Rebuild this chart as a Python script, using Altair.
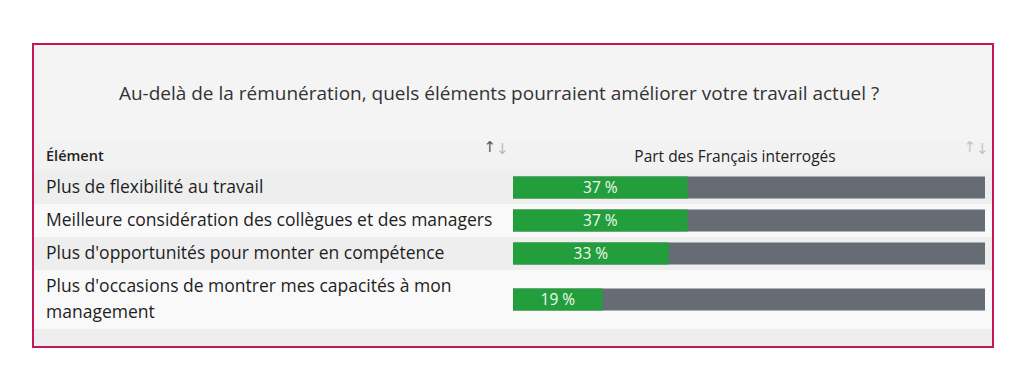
import altair as alt
import pandas as pd

# ---- data -------------------------------------------------------------
title_text = "Au-delà de la rémunération, quels éléments pourraient améliorer votre travail actuel ?"
col_left = "Élément"
col_right = "Part des Français interrogés"
elements = [
    "Plus de flexibilité au travail",
    "Meilleure considération des collègues et des managers",
    "Plus d'opportunités pour monter en compétence",
    "Plus d'occasions de montrer mes capacités à mon\nmanagement",
]
shares = [37, 37, 33, 19]

# ---- layout (pixels inside the framed box) ----------------------------
W, H = 960, 303
HEADER_TOP, HEADER_H = 98, 29
LINE_H = 26
ROW_BASE = 33
BAR_H = 22
FONT = "Open Sans"

rows = []
stripes = []
top = HEADER_TOP + HEADER_H
for i, (e, s) in enumerate(zip(elements, shares)):
    n = e.count("\n") + 1
    h = ROW_BASE + (n - 1) * LINE_H
    mid = top + h / 2
    rows.append(dict(element=e, share=s, start=0, full=100, half=s / 2,
                     label=f"{s} %", mid=mid, text_y=mid - (n - 1) * LINE_H / 2,
                     bar_top=mid - BAR_H / 2, bar_bot=mid + BAR_H / 2))
    stripes.append(dict(top=top, bottom=top + h, kind="dark" if i % 2 == 0 else "light"))
    top += h
stripes.append(dict(top=top, bottom=H - 1, kind="dark"))
stripes.append(dict(top=HEADER_TOP, bottom=HEADER_TOP + HEADER_H, kind="head"))

df = pd.DataFrame(rows)
sdf = pd.DataFrame(stripes)

xs = alt.Scale(domain=[0, 100], range=[480, 952], nice=False, zero=False)
ys = alt.Scale(domain=[0, H], range=[0, H], nice=False, zero=False)

base = alt.Chart(df)

stripe_layer = alt.Chart(sdf).mark_rect().encode(
    x=alt.value(1), x2=alt.value(W - 1),
    y=alt.Y("top:Q", scale=ys, axis=None), y2="bottom:Q",
    color=alt.Color("kind:N", legend=None,
                    scale=alt.Scale(domain=["dark", "light", "head"],
                                    range=["#eeeeef", "#f9f9fa", "#f2f2f3"])),
)

gray = base.mark_rect(color="#666c73").encode(
    x=alt.X("start:Q", scale=xs, axis=None), x2="full:Q",
    y=alt.Y("bar_top:Q", scale=ys, axis=None), y2="bar_bot:Q",
)
green = base.mark_rect(color="#239e3d").encode(
    x=alt.X("start:Q", scale=xs, axis=None), x2="share:Q",
    y=alt.Y("bar_top:Q", scale=ys, axis=None), y2="bar_bot:Q",
)
pct = base.mark_text(color="#f2faf2", font=FONT, fontSize=15.5, fontWeight="normal",
                     baseline="middle", align="center").encode(
    x=alt.X("half:Q", scale=xs, axis=None),
    y=alt.Y("mid:Q", scale=ys, axis=None),
    text="label:N",
)
names = base.mark_text(color="#1e1e1e", font=FONT, fontSize=17.5, align="left",
                       baseline="middle", lineBreak="\n", lineHeight=26).encode(
    x=alt.value(13),
    y=alt.Y("text_y:Q", scale=ys, axis=None),
    text="element:N",
)

tdf = pd.DataFrame({"t": [title_text]})
title = alt.Chart(tdf).mark_text(font=FONT, fontSize=19, color="#333333",
                                 align="center", baseline="middle").encode(
    x=alt.value(466), y=alt.value(50), text="t:N")

h1 = alt.Chart(pd.DataFrame({"t": [col_left]})).mark_text(
    font=FONT, fontSize=14.5, fontWeight=600, color="#222222",
    align="left", baseline="middle").encode(x=alt.value(13), y=alt.value(113), text="t:N")
h2 = alt.Chart(pd.DataFrame({"t": [col_right]})).mark_text(
    font=FONT, fontSize=15.5, color="#222222",
    align="center", baseline="middle").encode(x=alt.value(702), y=alt.value(113), text="t:N")

up1 = alt.Chart(pd.DataFrame({"t": ["↑"]})).mark_text(
    font="DejaVu Sans", fontSize=15, color="#555555", align="right", baseline="middle"
).encode(x=alt.value(463), y=alt.value(103), text="t:N")
dn1 = alt.Chart(pd.DataFrame({"t": ["↓"]})).mark_text(
    font="DejaVu Sans", fontSize=15, color="#bbbbbb", align="left", baseline="middle"
).encode(x=alt.value(463), y=alt.value(105), text="t:N")
up2 = alt.Chart(pd.DataFrame({"t": ["↑"]})).mark_text(
    font="DejaVu Sans", fontSize=15, color="#c4c4c4", align="right", baseline="middle"
).encode(x=alt.value(943), y=alt.value(103), text="t:N")
dn2 = alt.Chart(pd.DataFrame({"t": ["↓"]})).mark_text(
    font="DejaVu Sans", fontSize=15, color="#c4c4c4", align="left", baseline="middle"
).encode(x=alt.value(943), y=alt.value(105), text="t:N")

chart = alt.layer(
    stripe_layer, gray, green, pct, names, title, h1, h2, up1, dn1, up2, dn2
).properties(
    width=W, height=H,
    padding={"left": 25, "top": 36, "right": 10, "bottom": 10},
    autosize=alt.AutoSizeParams(type="none"),
    background="white",
).configure_view(
    stroke="#c2185b", strokeWidth=2, fill="#f4f4f5"
)

chart.save("out.html", embed_options={"renderer": "svg", "actions": False})
